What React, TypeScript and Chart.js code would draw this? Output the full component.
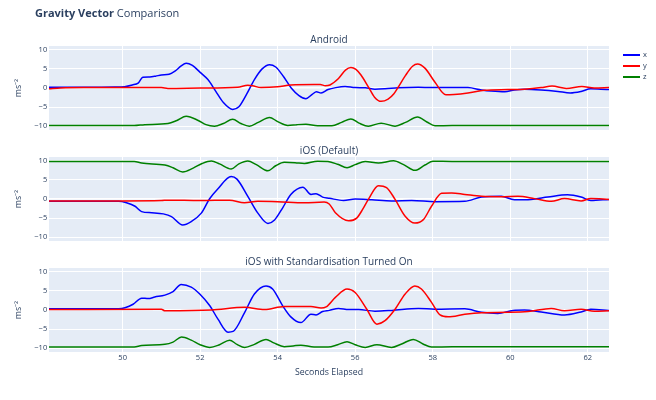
import { useEffect, useRef } from 'react';
import { Chart, LineController, LineElement, LinearScale, PointElement } from 'chart.js';

Chart.register(LineController, LineElement, PointElement, LinearScale);

type Sample = [number, number];

const xTicks = [50, 52, 54, 56, 58, 60, 62];
const yTicks = [-10, -5, 0, 5, 10];
const xRange = [48.1, 62.55];
const yRange = [-11, 11];

const seriesNames = ['x', 'y', 'z'];
const seriesColors = ['#0000ff', '#ff0000', '#008000'];
const panelTitles = ['Android', 'iOS (Default)', 'iOS with Standardisation Turned On'];

// [seconds, ms^-2]
const androidX: Sample[] = [
  [48.1, 0.2], [49.0, 0.2], [49.8, 0.25], [50.05, 0.35], [50.25, 0.8], [50.4, 1.3], [50.52, 2.8],
  [50.7, 2.9], [50.85, 3.1], [51.0, 3.4], [51.2, 3.6], [51.35, 4.4], [51.5, 5.7], [51.64, 6.5],
  [51.8, 5.9], [52.0, 4.1], [52.2, 2.2], [52.4, -0.8], [52.6, -3.8], [52.84, -5.6], [53.0, -4.9],
  [53.2, -1.6], [53.4, 2.2], [53.6, 5.0], [53.79, 6.1], [53.95, 5.5], [54.15, 3.0], [54.35, 0.0],
  [54.55, -2.0], [54.73, -2.8], [54.9, -1.6], [55.0, -1.0], [55.12, -1.3], [55.3, -0.4], [55.5, 0.1],
  [55.74, 0.4], [56.0, 0.1], [56.26, 0.05], [56.51, -0.3], [56.77, -0.2], [57.11, 0.05], [57.63, 0.2],
  [57.97, 0.1], [58.49, 0.15], [58.91, 0.1], [59.26, -0.5], [59.51, -0.8], [59.86, -1.0], [60.11, -0.5],
  [60.37, -0.3], [60.8, -0.5], [61.23, -0.9], [61.55, -1.3], [61.83, -0.9], [62.08, -0.2], [62.34, -0.3],
  [62.55, -0.4],
];
const androidY: Sample[] = [
  [48.1, -0.2], [48.4, 0.0], [49.0, 0.1], [50.0, 0.1], [51.0, 0.1], [51.17, -0.1], [52.0, 0.0],
  [52.97, 0.2], [53.23, 0.7], [53.35, 0.6], [53.57, 0.1], [54.0, 0.3], [54.34, 0.8], [54.94, 0.9],
  [55.1, 0.9], [55.23, 0.6], [55.35, 0.8], [55.57, 2.5], [55.75, 4.7], [55.89, 5.4], [56.02, 4.9],
  [56.15, 3.4], [56.34, 0.3], [56.5, -2.4], [56.67, -3.5], [56.85, -2.9], [57.0, -1.5], [57.11, 0.2],
  [57.3, 3.3], [57.48, 5.7], [57.61, 6.3], [57.8, 5.2], [58.06, 1.5], [58.34, -1.8], [58.55, -1.7],
  [58.91, -1.3], [59.34, -0.6], [59.94, -0.4], [60.37, -0.3], [60.8, 0.1], [61.08, 0.5], [61.45, -0.1],
  [61.85, 0.4], [62.17, 0.0], [62.55, 0.1],
];
const androidZ: Sample[] = [
  [48.1, -9.85], [50.3, -9.85], [50.57, -9.6], [51.17, -9.3], [51.4, -8.5], [51.64, -7.4], [51.95, -8.5],
  [52.15, -9.6], [52.37, -10.0], [52.6, -9.3], [52.84, -8.2], [53.05, -9.3], [53.27, -10.0], [53.5, -9.0],
  [53.79, -7.7], [54.0, -8.8], [54.26, -9.8], [54.5, -9.6], [54.73, -9.5], [55.03, -9.9], [55.4, -9.9],
  [55.65, -9.0], [55.89, -8.1], [56.1, -9.2], [56.34, -10.0], [56.67, -9.2], [57.03, -10.0], [57.3, -9.0],
  [57.61, -7.6], [57.85, -8.9], [58.06, -9.9], [58.5, -9.85], [62.55, -9.85],
];

const iosX: Sample[] = [
  [48.1, -0.6], [49.0, -0.6], [49.9, -0.6], [50.1, -1.0], [50.32, -1.9], [50.49, -3.3], [50.75, -3.6],
  [51.05, -3.9], [51.26, -4.6], [51.55, -6.8], [51.77, -5.9], [52.03, -3.7], [52.24, 0.0], [52.46, 2.7],
  [52.8, 5.9], [52.95, 5.2], [53.23, 0.7], [53.49, -3.7], [53.75, -6.4], [53.92, -5.5], [54.13, -2.3],
  [54.34, 1.2], [54.65, 3.1], [54.86, 1.2], [54.99, 1.4], [55.16, 0.5], [55.33, 0.2], [55.7, -0.4],
  [56.0, 0.0], [56.43, -0.2], [56.94, -0.5], [57.46, -0.4], [58.06, -0.7], [58.83, -0.6], [59.26, 0.5],
  [59.77, 0.7], [60.11, -0.2], [60.54, -0.1], [60.97, 0.5], [61.48, 1.1], [61.83, 0.5], [62.08, -0.4],
  [62.55, -0.1],
];
const iosY: Sample[] = [
  [48.1, -0.5], [50.0, -0.5], [51.0, -0.4], [51.17, -0.3], [52.0, -0.4], [52.76, -0.3], [53.14, -1.0],
  [53.49, -0.6], [54.0, -0.7], [54.69, -1.0], [55.2, -0.8], [55.33, -1.3], [55.49, -3.6], [55.83, -5.7],
  [56.04, -5.0], [56.2, -2.6], [56.34, -0.1], [56.6, 3.5], [56.81, 3.0], [57.03, -0.1], [57.29, -4.5],
  [57.54, -6.3], [57.76, -5.4], [57.97, -1.9], [58.23, 1.5], [58.49, 1.6], [58.83, 1.2], [59.26, 0.7],
  [59.77, 0.6], [60.2, 0.7], [60.63, 0.1], [61.06, -0.6], [61.4, 0.1], [61.83, -0.5], [62.08, 0.1],
  [62.55, -0.1],
];
const iosZ: Sample[] = [
  [48.1, 9.85], [50.3, 9.85], [50.49, 9.4], [51.09, 8.9], [51.3, 8.2], [51.55, 7.1], [51.82, 8.1],
  [52.05, 9.3], [52.29, 9.95], [52.5, 9.2], [52.8, 7.85], [53.0, 9.2], [53.23, 9.95], [53.45, 9.0],
  [53.75, 7.4], [53.95, 8.7], [54.17, 9.6], [54.45, 9.5], [54.69, 9.3], [55.03, 9.9], [55.3, 9.8],
  [55.55, 9.1], [55.79, 8.2], [56.0, 9.0], [56.26, 9.8], [56.6, 9.4], [56.99, 10.0], [57.25, 9.0],
  [57.54, 7.5], [57.8, 8.9], [58.01, 9.9], [58.5, 9.85], [62.55, 9.85],
];

const iosStdX: Sample[] = [
  [48.1, 0.3], [49.9, 0.35], [50.06, 0.6], [50.27, 1.5], [50.49, 3.1], [50.66, 3.0], [50.83, 3.4],
  [51.09, 3.9], [51.3, 4.8], [51.51, 6.7], [51.77, 6.0], [51.99, 4.2], [52.25, 1.1], [52.46, -2.4],
  [52.72, -5.8], [52.85, -5.6], [53.15, -0.6], [53.4, 4.2], [53.7, 6.3], [53.87, 5.5], [54.13, 1.1],
  [54.34, -1.8], [54.6, -3.3], [54.86, -1.1], [54.99, -1.3], [55.16, -0.4], [55.33, -0.1], [55.57, 0.4],
  [55.83, 0.1], [56.09, 0.1], [56.51, -0.3], [56.94, -0.1], [57.63, 0.4], [58.06, 0.2], [58.83, 0.3],
  [59.26, -0.6], [59.68, -0.9], [60.07, -0.1], [60.37, 0.0], [60.8, -0.5], [61.4, -1.3], [61.83, -0.5],
  [62.08, 0.2], [62.55, -0.1],
];
const iosStdY: Sample[] = [
  [48.1, 0.1], [51.0, 0.2], [51.09, -0.2], [52.29, 0.0], [53.15, 0.7], [53.66, 0.1], [54.17, 0.9],
  [54.86, 0.9], [55.12, 0.5], [55.25, 0.8], [55.49, 3.3], [55.79, 5.5], [56.0, 4.6], [56.3, 0.2],
  [56.56, -3.7], [56.77, -2.8], [57.03, 0.2], [57.29, 4.2], [57.54, 6.3], [57.71, 5.5], [57.97, 2.0],
  [58.19, -1.3], [58.4, -1.8], [58.83, -1.1], [59.26, -0.7], [59.94, -0.6], [60.46, -0.4], [61.06, 0.4],
  [61.4, -0.2], [61.83, 0.2], [62.17, -0.3], [62.55, -0.2],
];
const iosStdZ: Sample[] = [
  [48.1, -9.7], [50.3, -9.7], [50.49, -9.3], [51.09, -9.0], [51.3, -8.4], [51.52, -7.1], [51.77, -7.9],
  [52.0, -9.1], [52.25, -9.8], [52.5, -9.1], [52.76, -7.9], [52.95, -9.0], [53.15, -9.8], [53.4, -9.0],
  [53.7, -7.7], [53.9, -8.6], [54.17, -9.6], [54.4, -9.4], [54.6, -9.2], [54.94, -9.7], [55.3, -9.7],
  [55.55, -9.1], [55.79, -8.3], [56.0, -9.1], [56.26, -9.8], [56.56, -9.1], [56.94, -9.8], [57.2, -8.9],
  [57.5, -7.7], [57.75, -8.9], [57.97, -9.7], [58.5, -9.65], [62.55, -9.65],
];

const panelSeries: Sample[][][] = [
  [androidX, androidY, androidZ],
  [iosX, iosY, iosZ],
  [iosStdX, iosStdY, iosStdZ],
];

const W = 656;
const H = 400;
const PLOT_LEFT = 49;
const PLOT_RIGHT = 609;
const PANEL_TOPS = [46, 157, 268];
const PANEL_H = 84;
const X_AXIS_H = 40;
const FONT = '"Open Sans", verdana, arial, sans-serif';
const TEXT = '#2a3f5f';

const fmt = (v: number) => (v < 0 ? '\u2212' + Math.abs(v) : String(v));

function Panel({ index }: { index: number }) {
  const canvasRef = useRef<HTMLCanvasElement>(null);

  useEffect(() => {
    if (!canvasRef.current) return;
    const top = PANEL_TOPS[index];
    const last = index === PANEL_TOPS.length - 1;
    const xHeight = last ? X_AXIS_H : 0;

    const background = {
      id: 'plotBackground',
      beforeDraw(chart: Chart) {
        const { ctx, chartArea: a } = chart;
        ctx.save();
        ctx.fillStyle = '#e5ecf6';
        ctx.fillRect(a.left, a.top, a.right - a.left, a.bottom - a.top);
        ctx.restore();
      },
    };

    const texts = {
      id: 'panelTexts',
      afterDraw(chart: Chart) {
        const { ctx, chartArea: a } = chart;
        ctx.save();
        ctx.fillStyle = TEXT;
        ctx.textBaseline = 'middle';
        ctx.textAlign = 'center';
        ctx.font = `10px ${FONT}`;
        ctx.fillText(panelTitles[index], (a.left + a.right) / 2, a.top - 6);
        if (index === 0) {
          ctx.textAlign = 'left';
          ctx.font = `bold 11px ${FONT}`;
          ctx.fillText('Gravity Vector', 35, 13.5);
          const w = ctx.measureText('Gravity Vector').width;
          ctx.font = `11px ${FONT}`;
          ctx.fillText(' Comparison', 35 + w, 13.5);
          ctx.font = `7.5px ${FONT}`;
          seriesNames.forEach((name, i) => {
            const y = 55 + i * 11;
            ctx.strokeStyle = seriesColors[i];
            ctx.lineWidth = 2;
            ctx.beginPath();
            ctx.moveTo(623, y);
            ctx.lineTo(640, y);
            ctx.stroke();
            ctx.fillText(name, 643, y);
          });
        }
        ctx.restore();
      },
    };

    const chart = new Chart(canvasRef.current, {
      type: 'line',
      data: {
        datasets: panelSeries[index].map((samples, i) => ({
          label: seriesNames[i],
          data: samples.map(([t, v]) => ({ x: t, y: v })),
          borderColor: seriesColors[i],
          backgroundColor: seriesColors[i],
          borderWidth: 1.5,
          pointRadius: 0,
          cubicInterpolationMode: 'monotone' as const,
          order: 2 - i,
        })),
      },
      options: {
        animation: false,
        responsive: false,
        events: [],
        layout: {
          padding: {
            left: 0,
            right: W - PLOT_RIGHT,
            top,
            bottom: H - top - PANEL_H - xHeight,
          },
        },
        plugins: { legend: { display: false }, tooltip: { enabled: false } },
        scales: {
          x: {
            type: 'linear',
            min: xRange[0],
            max: xRange[1],
            afterBuildTicks: (scale) => {
              scale.ticks = xTicks.map((value) => ({ value }));
            },
            afterFit: (scale) => {
              scale.height = xHeight;
            },
            grid: { color: '#ffffff', lineWidth: 1, drawTicks: false },
            border: { display: false },
            ticks: {
              display: last,
              padding: 1,
              color: TEXT,
              font: { family: FONT, size: 7.5 },
              maxRotation: 0,
              callback: (v) => fmt(Number(v)),
            },
            title: {
              display: last,
              text: 'Seconds Elapsed',
              color: TEXT,
              font: { family: FONT, size: 8.75 },
              padding: { top: 0, bottom: 14.5 },
            },
          },
          y: {
            type: 'linear',
            min: yRange[0],
            max: yRange[1],
            afterBuildTicks: (scale) => {
              scale.ticks = yTicks.map((value) => ({ value }));
            },
            afterFit: (scale) => {
              scale.width = PLOT_LEFT;
            },
            grid: {
              color: '#ffffff',
              lineWidth: (c) => (c.tick && c.tick.value === 0 ? 1.6 : 1),
              drawTicks: false,
            },
            border: { display: false },
            ticks: {
              padding: 1.8,
              color: TEXT,
              font: { family: FONT, size: 7.5 },
              callback: (v) => fmt(Number(v)),
            },
            title: {
              display: true,
              text: 'ms⁻²',
              color: TEXT,
              font: { family: FONT, size: 8.75 },
              padding: { top: 13, bottom: 0 },
            },
          },
        },
      },
      plugins: [background, texts],
    });

    return () => chart.destroy();
  }, [index]);

  return (
    <canvas
      ref={canvasRef}
      width={W}
      height={H}
      style={{ position: 'absolute', left: 0, top: 0, width: W, height: H }}
    />
  );
}

export default function App() {
  return (
    <div style={{ position: 'absolute', left: 0, top: 0, width: W, height: H, background: '#ffffff' }}>
      {PANEL_TOPS.map((_, i) => (
        <Panel key={i} index={i} />
      ))}
    </div>
  );
}
